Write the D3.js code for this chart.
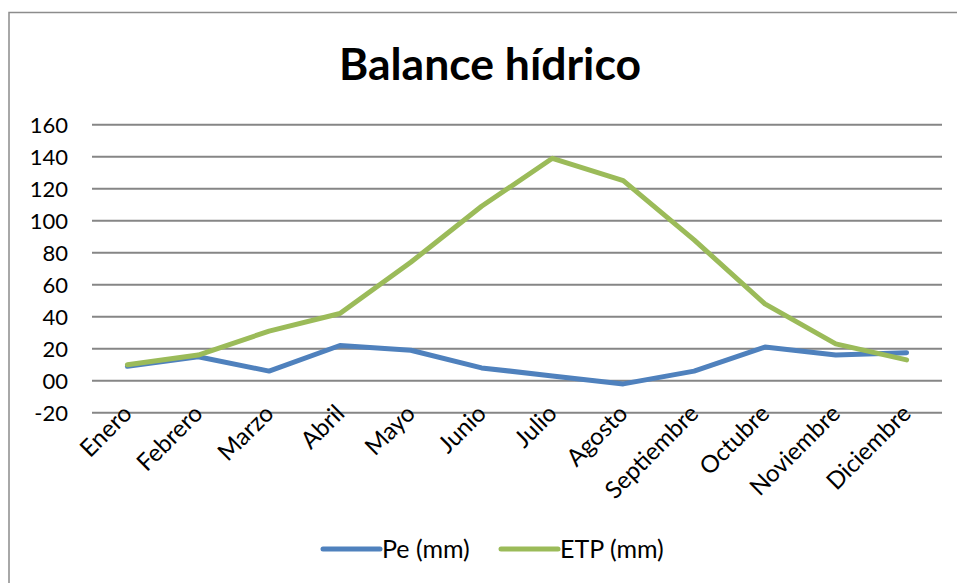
<!DOCTYPE html>
<html>
<head>
<meta charset="utf-8">
<script src="https://cdn.jsdelivr.net/npm/d3@7"></script>
<style>
  html, body { margin: 0; padding: 0; background: #fff; }
  svg { display: block; }
  text { font-family: Lato, "Liberation Sans", sans-serif; fill: #000; }
</style>
</head>
<body>
<svg id="chart" width="957" height="583"></svg>
<script>
// Monthly water balance
const months = ["Enero", "Febrero", "Marzo", "Abril", "Mayo", "Junio",
                "Julio", "Agosto", "Septiembre", "Octubre", "Noviembre", "Diciembre"];
const pe  = [9, 15, 6, 22, 19, 8, 3, -2, 6, 21, 16, 17.5];
const etp = [10, 16, 31, 42, 74, 109, 139, 125, 88, 48, 23, 13];
const yTicks = [-20, 0, 20, 40, 60, 80, 100, 120, 140, 160];
const yTickLabels = ["-20", "00", "20", "40", "60", "80", "100", "120", "140", "160"];
const seriesNames = ["Pe (mm)", "ETP (mm)"];
const seriesColors = ["#4F81BD", "#9BBB59"];

const svg = d3.select("#chart");

// outer chart frame
svg.append("rect")
  .attr("x", 9).attr("y", 12.5)
  .attr("width", 960).attr("height", 600)
  .attr("fill", "none").attr("stroke", "#8c8c8c").attr("stroke-width", 1.5);

svg.append("text")
  .attr("x", 490).attr("y", 80)
  .attr("text-anchor", "middle")
  .attr("font-size", 44.5).attr("font-weight", 700)
  .text("Balance hídrico");

const x = d3.scaleBand().domain(months).range([92, 942]);
const y = d3.scaleLinear().domain([-20, 160]).range([412.7, 124.7]);
const cx = d => x(d) + x.bandwidth() / 2;

// horizontal gridlines
svg.append("g").selectAll("line").data(yTicks).join("line")
  .attr("x1", 92).attr("x2", 942)
  .attr("y1", d => y(d)).attr("y2", d => y(d))
  .attr("stroke", "#868686").attr("stroke-width", 2);

// y axis labels
const yAxis = d3.axisLeft(y).tickValues(yTicks)
  .tickFormat((d, i) => yTickLabels[i]).tickSize(0).tickPadding(0);
const gy = svg.append("g").attr("transform", "translate(68,0)").call(yAxis);
gy.select(".domain").remove();
gy.selectAll("text")
  .attr("font-family", "Lato, 'Liberation Sans', sans-serif")
  .attr("font-size", 22).attr("fill", "#000").attr("dy", "0.35em");

// x axis labels, rotated
const xAxis = d3.axisBottom(x).tickSize(0).tickPadding(0);
const gx = svg.append("g").attr("transform", "translate(0,413)").call(xAxis);
gx.select(".domain").remove();
gx.selectAll("text")
  .attr("font-family", "Lato, 'Liberation Sans', sans-serif")
  .attr("font-size", 24).attr("fill", "#000")
  .attr("text-anchor", "end")
  .attr("dy", null).attr("y", 0)
  .attr("transform", "translate(6,2) rotate(-45)");

// series lines
const line = d3.line().x((d, i) => cx(months[i])).y(d => y(d));
[pe, etp].forEach((s, i) => {
  svg.append("path").datum(s)
    .attr("d", line)
    .attr("fill", "none")
    .attr("stroke", seriesColors[i])
    .attr("stroke-width", 5)
    .attr("stroke-linejoin", "round")
    .attr("stroke-linecap", "round");
});

// legend
const legendX = [323, 501];
seriesNames.forEach((name, i) => {
  const g = svg.append("g").attr("transform", `translate(${legendX[i]},549)`);
  g.append("line").attr("x1", 0).attr("x2", 57).attr("y1", 0).attr("y2", 0)
    .attr("stroke", seriesColors[i]).attr("stroke-width", 5).attr("stroke-linecap", "round");
  g.append("text").attr("x", 59).attr("y", 0).attr("dy", "0.35em")
    .attr("font-size", 25).text(name);
});
</script>
</body>
</html>
